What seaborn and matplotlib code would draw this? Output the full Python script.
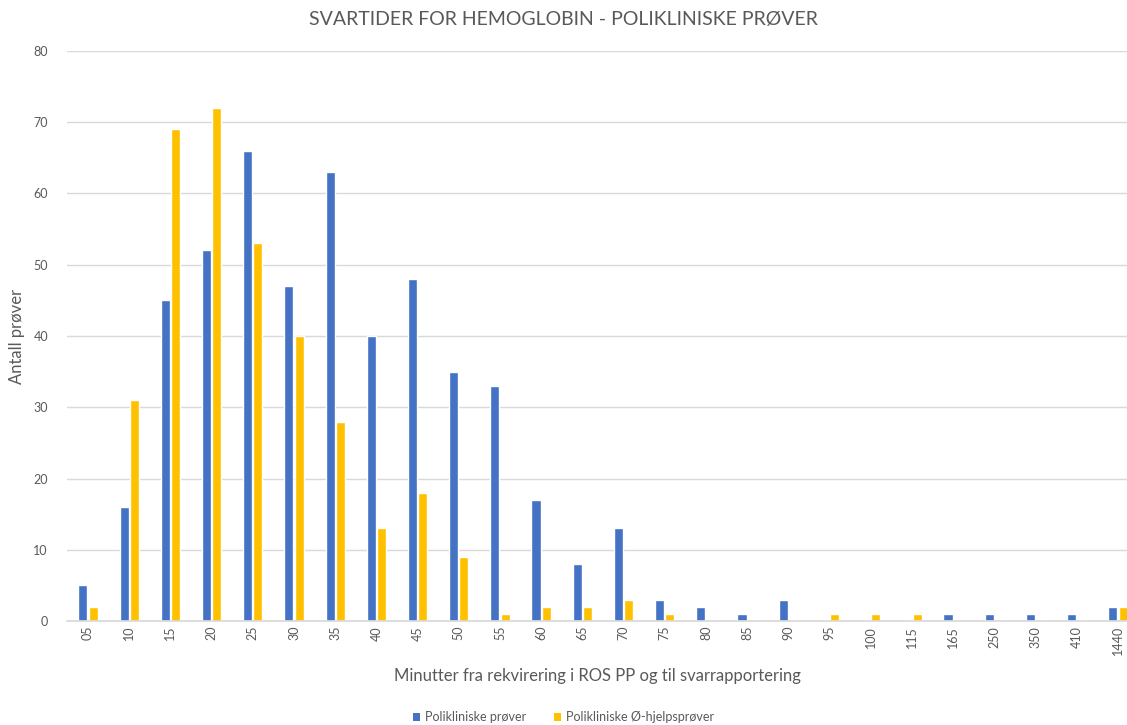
import matplotlib
matplotlib.use("Agg")
import matplotlib.pyplot as plt
import seaborn as sns
import pandas as pd
from matplotlib.patches import Patch

categories = ["05", "10", "15", "20", "25", "30", "35", "40", "45", "50", "55", "60", "65",
              "70", "75", "80", "85", "90", "95", "100", "115", "165", "250", "350", "410", "1440"]
poliklinisk = [5, 16, 45, 52, 66, 47, 63, 40, 48, 35, 33, 17, 8, 13, 3, 2, 1, 3, 0, 0, 0, 1, 1, 1, 1, 2]
ohjelp = [2, 31, 69, 72, 53, 40, 28, 13, 18, 9, 1, 2, 2, 3, 1, 0, 0, 0, 1, 1, 1, 0, 0, 0, 0, 2]
series_names = ["Polikliniske prøver", "Polikliniske Ø-hjelpsprøver"]

df = pd.DataFrame({
    "kategori": categories * 2,
    "verdi": poliklinisk + ohjelp,
    "serie": [series_names[0]] * len(categories) + [series_names[1]] * len(categories),
})

sns.set_theme(style="white")
plt.rcParams["font.family"] = ["Lato", "DejaVu Sans"]

fig = plt.figure(figsize=(11.27, 7.25), dpi=100)
ax = fig.add_axes([67.4 / 1127, 0.1434, 1 - 67.4 / 1127, 0.7863])

palette = {series_names[0]: "#4472C4", series_names[1]: "#FFC000"}
sns.barplot(data=df, x="kategori", y="verdi", hue="serie", order=categories,
            hue_order=series_names, palette=palette, width=0.5, gap=0.12,
            saturation=1, ax=ax, legend=False)

ax.set_xlim(-0.5, 25.22)
ax.set_ylim(0, 80)
ax.set_yticks(range(0, 81, 10))
ax.yaxis.grid(True, color="#D9D9D9", linewidth=1)
ax.set_axisbelow(True)
for s in ["top", "right", "left"]:
    ax.spines[s].set_visible(False)
ax.spines["bottom"].set_color("#D9D9D9")
ax.tick_params(axis="both", length=0, colors="#595959", labelsize=9)
ax.tick_params(axis="y", pad=14)
plt.setp(ax.get_xticklabels(), rotation=90)

ax.set_xlabel("Minutter fra rekvirering i ROS PP og til svarrapportering", fontsize=12,
              color="#595959")
ax.xaxis.set_label_coords(0.5, -0.0825)
ax.set_ylabel("Antall prøver", fontsize=12, color="#595959")
ax.yaxis.set_label_coords(-0.040, 0.5)
fig.text(0.5, 0.973, "SVARTIDER FOR HEMOGLOBIN - POLIKLINISKE PRØVER", ha="center",
         va="center", fontsize=14, color="#595959")

handles = [Patch(facecolor=palette[n], edgecolor="none") for n in series_names]
fig.legend(handles, series_names, loc="center", bbox_to_anchor=(0.5, 0.011),
           ncol=2, frameon=False, fontsize=9, handlelength=0.6, handleheight=0.6,
           columnspacing=2.2, handletextpad=0.4, labelcolor="#595959")

fig.savefig("out.png", dpi=100)
